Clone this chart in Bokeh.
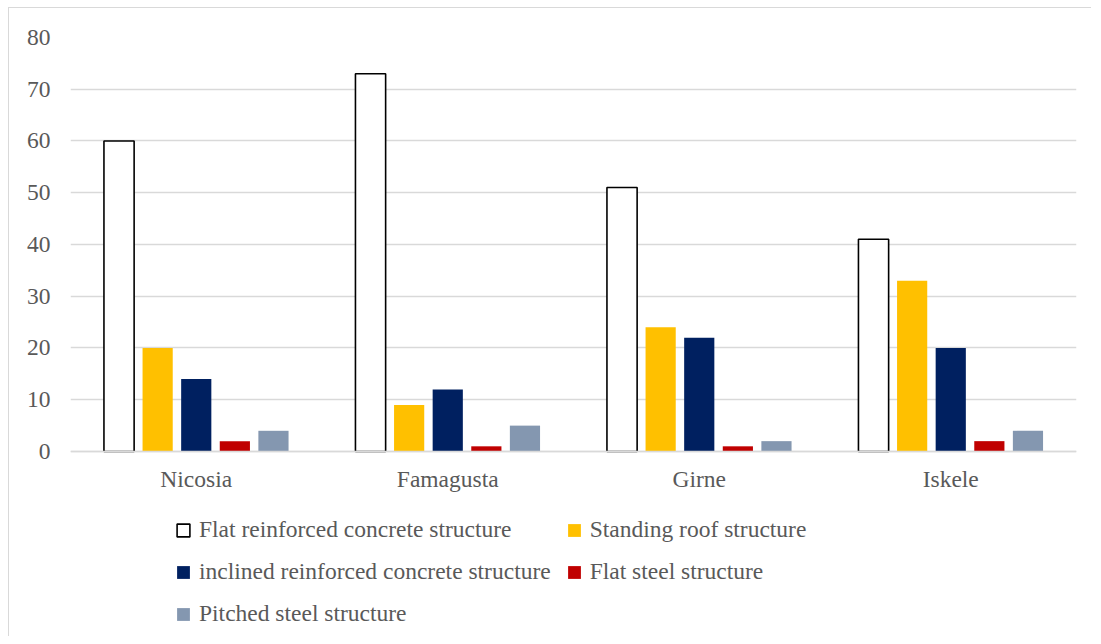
from bokeh.plotting import figure
from bokeh.models import ColumnDataSource, FactorRange, Range1d, Legend, LegendItem, FixedTicker
from bokeh.transform import dodge
from bokeh.embed import file_html
from bokeh.resources import INLINE

cities = ["Nicosia", "Famagusta", "Girne", "Iskele"]
series_names = [
    "Flat reinforced concrete structure",
    "Standing roof structure",
    "inclined reinforced concrete structure",
    "Flat steel structure",
    "Pitched steel structure",
]
flat_rc = [60, 73, 51, 41]
standing_roof = [20, 9, 24, 33]
inclined_rc = [14, 12, 22, 20]
flat_steel = [2, 1, 1, 2]
pitched_steel = [4, 5, 2, 4]
y_ticks = [0, 10, 20, 30, 40, 50, 60, 70, 80]

fills = ["#FFFFFF", "#FFC000", "#002060", "#C00000", "#8497B0"]
lines = ["#000000", "#FFC000", "#002060", "#C00000", "#8497B0"]
line_w = [1.6, 0, 0, 0, 0]
keys = ["flat_rc", "standing_roof", "inclined_rc", "flat_steel", "pitched_steel"]
legend_order = [0, 2, 4, 1, 3]  # legend fills column by column

source = ColumnDataSource(dict(
    cities=cities, flat_rc=flat_rc, standing_roof=standing_roof,
    inclined_rc=inclined_rc, flat_steel=flat_steel, pitched_steel=pitched_steel,
))

FONT = "Liberation Serif"
TXT = "#595959"
FS = "23.5px"

# the frame extends down to the figure's bottom so that the legend fits inside it;
# the value axis starts below 0 to leave room for the category labels and legend
p = figure(
    x_range=FactorRange(*cities), y_range=Range1d(-35.75, 80),
    frame_width=1006, frame_height=599, output_backend="svg", toolbar_location=None,
    min_border_left=61, min_border_right=15, min_border_top=29, min_border_bottom=0,
)
p.styles = {"border-top": "1px solid #D9D9D9", "border-left": "1px solid #D9D9D9",
            "margin-left": "8px", "margin-top": "7px"}
p.outline_line_color = None

step = 0.1535
renderers = []
for i, k in enumerate(keys):
    r = p.vbar(
        x=dodge("cities", (i - 2) * step, range=p.x_range), top=k, width=0.12,
        source=source, fill_color=fills[i], line_color=lines[i] if line_w[i] > 0 else None,
        line_width=line_w[i] if line_w[i] > 0 else 1,
    )
    renderers.append(r)
items = [LegendItem(label=series_names[i], renderers=[renderers[i]]) for i in legend_order]

p.xgrid.grid_line_color = None
p.ygrid.grid_line_color = "#D9D9D9"
p.ygrid.grid_line_width = 1.3
p.yaxis.ticker = FixedTicker(ticks=y_ticks)
p.yaxis.axis_line_color = None
p.yaxis.major_tick_line_color = None
p.yaxis.minor_tick_line_color = None
p.yaxis.major_tick_out = 0
p.yaxis.major_label_standoff = 20
p.xaxis.fixed_location = 0
p.xaxis.axis_line_color = "#D9D9D9"
p.xaxis.axis_line_width = 1.3
p.xaxis.major_tick_line_color = None
p.xaxis.major_tick_out = 0
p.xaxis.major_label_standoff = 15
for ax in (p.xaxis, p.yaxis):
    ax.major_label_text_font = FONT
    ax.major_label_text_font_size = FS
    ax.major_label_text_color = TXT

legend = Legend(
    items=items, ncols=2, location=(105, 9),
    glyph_width=16, glyph_height=16, label_standoff=8, spacing=15,
    label_text_font=FONT, label_text_font_size=FS, label_text_color=TXT,
    border_line_color=None, background_fill_alpha=0, padding=0, margin=0,
)
p.add_layout(legend, "center")

open("out.html", "w").write(file_html(p, INLINE))
